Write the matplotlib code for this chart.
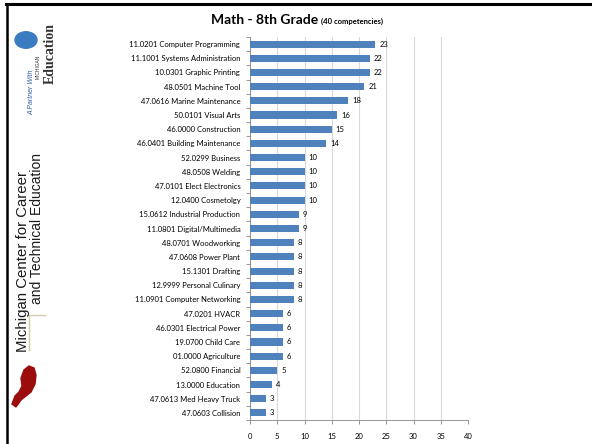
import matplotlib
matplotlib.use("Agg")
import matplotlib.pyplot as plt
from matplotlib.lines import Line2D
from matplotlib.patches import Circle, Polygon

categories = [
    "11.0201 Computer Programming", "11.1001 Systems Administration", "10.0301 Graphic Printing",
    "48.0501 Machine Tool", "47.0616 Marine Maintenance", "50.0101 Visual Arts",
    "46.0000 Construction", "46.0401 Building Maintenance", "52.0299 Business",
    "48.0508 Welding", "47.0101 Elect Electronics", "12.0400 Cosmetolgy",
    "15.0612 Industrial Production", "11.0801 Digital/Multimedia", "48.0701 Woodworking",
    "47.0608 Power Plant", "15.1301 Drafting", "12.9999 Personal Culinary",
    "11.0901 Computer Networking", "47.0201 HVACR", "46.0301 Electrical Power",
    "19.0700 Child Care", "01.0000 Agriculture", "52.0800 Financial",
    "13.0000 Education", "47.0613 Med Heavy Truck", "47.0603 Collision",
]
values = [23, 22, 22, 21, 18, 16, 15, 14, 10, 10, 10, 10, 9, 9, 8, 8, 8, 8, 8, 6, 6, 6, 6, 5, 4, 3, 3]
x_ticks = [0, 5, 10, 15, 20, 25, 30, 35, 40]

W, H = 592, 444
fig = plt.figure(figsize=(W / 100, H / 100), dpi=100)
fig.patch.set_facecolor("white")
FONT = ["Lato", "DejaVu Sans"]
ARIAL = ["Liberation Sans", "DejaVu Sans"]

def fx(px):
    return px / W

def fy(py):
    return 1 - py / H

ax = fig.add_axes([fx(250), fy(420), fx(468) - fx(250), fy(37) - fy(420)])
n = len(categories)
ypos = list(range(n))
ax.barh(ypos, values, height=0.5, color="#4F81BD", zorder=3)
ax.set_ylim(n - 0.5, -0.5)
ax.set_xlim(0, 40)
ax.set_xticks(x_ticks)
ax.set_xticklabels([str(t) for t in x_ticks], fontsize=5.5, family=FONT)
ax.set_yticks(ypos)
ax.set_yticklabels(categories, fontsize=5.5, family=FONT)
ax.tick_params(axis="y", length=0, pad=7)
ax.set_yticks([i + 0.5 for i in range(-1, n)], minor=True)
ax.tick_params(axis="y", which="minor", length=3, color="#868686", width=0.6)
ax.tick_params(axis="x", length=3, color="#868686", width=0.6, pad=6)
ax.grid(axis="x", color="#D9D9D9", linewidth=0.8, zorder=0)
for s in ["top", "right"]:
    ax.spines[s].set_visible(False)
for s in ["left", "bottom"]:
    ax.spines[s].set_color("#868686")
    ax.spines[s].set_linewidth(0.6)

for y, v in zip(ypos, values):
    ax.text(v + 0.7, y, str(v), va="center", ha="left", fontsize=5.5, family=FONT, zorder=4)

# title
fig.text(fx(318), fy(24), "Math - 8th Grade", fontsize=10, fontweight="bold", family=FONT,
         ha="right", va="baseline")
fig.text(fx(321), fy(24), "(40 competencies)", fontsize=5.5, fontweight="bold", family=FONT,
         ha="left", va="baseline")

# slide frame
fig.add_artist(Line2D([fx(6), 1], [fy(4), fy(4)], color="black", linewidth=2.2))
fig.add_artist(Line2D([fx(7), fx(7)], [fy(4), 0], color="black", linewidth=1.8))

# logo strip (approximation)
fig.text(fx(23), fy(262), "Michigan Center for Career", rotation=90, fontsize=10.8,
         family=ARIAL, ha="center", va="center", color="#1a1a1a")
fig.text(fx(37), fy(229), "and Technical Education", rotation=90, fontsize=10,
         family=ARIAL, ha="center", va="center", color="#1a1a1a")
fig.add_artist(Line2D([fx(29), fx(29), fx(45)], [fy(350), fy(315), fy(315)],
                      color="#d8c8a8", linewidth=1.0))
fig.text(fx(32), fy(92), "A Partner With", rotation=90, fontsize=5, style="italic",
         family=ARIAL, ha="center", va="center", color="#2a5caa")
fig.text(fx(38), fy(67), "MICHIGAN", rotation=90, fontsize=3.5,
         family=ARIAL, ha="center", va="center", color="#333333")
fig.text(fx(50), fy(54), "Education", rotation=90, fontsize=10, fontweight="bold",
         family=["Liberation Serif", "DejaVu Serif"], ha="center", va="center", color="#333333")
circ = Circle((fx(26), fy(40)), 11 / W, transform=fig.transFigure, color="#3a7cc0")
fig.add_artist(circ)
red_pts = [(12, 404), (15, 396), (19, 392), (22, 386), (21, 378), (24, 370), (29, 366),
           (34, 368), (36, 375), (35, 384), (31, 392), (26, 396), (21, 400), (16, 407)]
red_shape = Polygon([(fx(a), fy(b)) for a, b in red_pts], closed=True,
                    transform=fig.transFigure, color="#9b0d0d")
fig.add_artist(red_shape)

fig.savefig("out.png", dpi=100)
